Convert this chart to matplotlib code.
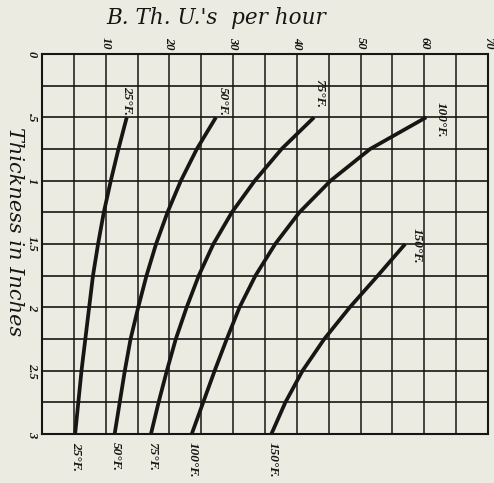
import matplotlib
matplotlib.use("Agg")
import matplotlib.pyplot as plt

# Heat loss (B.Th.U.'s per hour) against insulation thickness, one curve per temperature difference
thickness = [0.5, 0.75, 1.0, 1.25, 1.5, 1.75, 2.0, 2.25, 2.5, 2.75, 3.0]
btu_25 = [13.3, 12.0, 10.8, 9.7, 8.8, 8.0, 7.4, 6.8, 6.2, 5.7, 5.2]
btu_50 = [27.3, 24.3, 21.8, 19.7, 17.9, 16.4, 15.1, 13.9, 13.0, 12.2, 11.4]
btu_75 = [42.7, 37.6, 33.4, 29.8, 26.9, 24.6, 22.7, 21.0, 19.6, 18.3, 17.1]
btu_100 = [60.3, 51.5, 45.3, 40.4, 36.6, 33.5, 31.0, 29.0, 27.1, 25.3, 23.5]
thickness_150 = [1.5, 1.75, 2.0, 2.25, 2.5, 2.75, 3.0]
btu_150 = [57.0, 52.7, 48.3, 44.3, 40.9, 38.2, 36.0]

curve_labels = ["25°F.", "50°F.", "75°F.", "100°F.", "150°F."]

x_ticks = [10, 20, 30, 40, 50, 60, 70]
x_tick_labels = ["10", "20", "30", "40", "50", "60", "70"]
y_ticks = [0, 0.5, 1, 1.5, 2, 2.5, 3]
y_tick_labels = ["0", ".5", "1", "1.5", "2", "2.5", "3"]

paper = "#ecebe1"
ink = "#161614"
serif = ["Liberation Serif", "DejaVu Serif"]
wide_serif = ["DejaVu Serif"]

fig = plt.figure(figsize=(4.94, 4.83), dpi=100, facecolor=paper)
ax = fig.add_axes([42 / 494, 1 - 434 / 483, 446 / 494, 380 / 483], facecolor=paper)

ax.set_xlim(0, 70)
ax.set_ylim(3, 0)

# ruled grid: every 5 B.Th.U. and every quarter inch
for xv in range(5, 70, 5):
    ax.axvline(xv, color=ink, lw=1.1, zorder=1)
for k in range(1, 12):
    ax.axhline(k * 0.25, color=ink, lw=1.2, zorder=1)

for sp in ax.spines.values():
    sp.set_color(ink)
    sp.set_linewidth(1.5)

series = [
    (thickness, btu_25),
    (thickness, btu_50),
    (thickness, btu_75),
    (thickness, btu_100),
    (thickness_150, btu_150),
]
for t, q in series:
    ax.plot(q, t, color=ink, lw=2.7, solid_capstyle="butt", solid_joinstyle="round", zorder=3)

ax.xaxis.tick_top()
ax.set_xticks(x_ticks)
ax.set_xticklabels(x_tick_labels, rotation=-90, fontfamily=serif, fontstyle="italic",
                   fontweight="bold", fontsize=9, color=ink)
ax.set_yticks(y_ticks)
ax.set_yticklabels(y_tick_labels, rotation=-90, fontfamily=serif, fontstyle="italic",
                   fontweight="bold", fontsize=9, color=ink, va="center")
ax.tick_params(axis="both", length=0, pad=3)

label_kw = dict(rotation=-90, fontfamily=serif, fontstyle="italic", fontweight="bold",
                fontsize=9.5, color=ink, textcoords="offset pixels", annotation_clip=False)

# labels at the upper end of each curve
top_offsets = [(0, 2, "center", "bottom"), (7, 1, "center", "bottom"),
               (5, 9, "center", "bottom"), (8, -2, "left", "center"),
               (6, -2, "left", "center")]
for (t, q), lab, (dx, dy, ha, va) in zip(series, curve_labels, top_offsets):
    ax.annotate(lab, xy=(q[0], t[0]), xytext=(dx, dy), ha=ha, va=va, **label_kw)

# labels under the lower end of each curve
for (t, q), lab in zip(series, curve_labels):
    ax.annotate(lab, xy=(q[-1], 3), xytext=(1, -8), ha="center", va="top", **label_kw)

fig.text(216 / 494, 1 - 18 / 483, "B. Th. U.'s  per hour", ha="center", va="center",
         fontfamily=wide_serif, fontstyle="italic", fontsize=15.5, color=ink)
fig.text(14 / 494, 1 - 232 / 483, "Thickness in Inches", ha="center", va="center",
         rotation=-90, fontfamily=wide_serif, fontstyle="italic", fontsize=15, color=ink)

fig.savefig("out.png", dpi=100, facecolor=paper)
